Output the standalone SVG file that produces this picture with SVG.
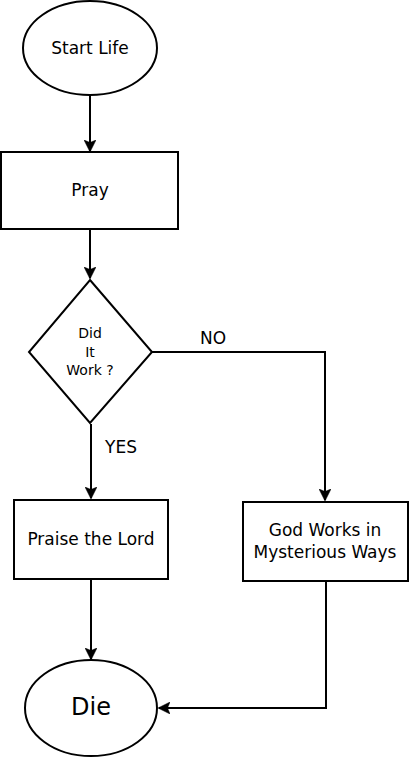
<svg xmlns="http://www.w3.org/2000/svg" width="410" height="759" viewBox="0 0 410 759">
<style>
.s{fill:#fff;stroke:#000;stroke-width:2}
.c{fill:none;stroke:#000;stroke-width:2}
text{font-family:"DejaVu Sans",sans-serif;fill:#000;text-anchor:middle}
.t{font-size:17px}
.d{font-size:14px}
</style>
<defs>
<marker id="a" viewBox="0 0 12 12" refX="11" refY="6" markerWidth="12" markerHeight="12" markerUnits="userSpaceOnUse" orient="auto">
<path d="M0,0 L12,6 L0,12 L2.5,6 Z" fill="#000" stroke="#000" stroke-width="0.5"/>
</marker>
</defs>
<g id="connectors">
<path class="c" d="M90,96 V151" marker-end="url(#a)"/>
<path class="c" d="M90,229 V278" marker-end="url(#a)"/>
<path class="c" d="M91,424 V498" marker-end="url(#a)"/>
<path class="c" d="M152,352 H325 V500" marker-end="url(#a)"/>
<path class="c" d="M91,580 V659" marker-end="url(#a)"/>
<path class="c" d="M326,582 V708 H159" marker-end="url(#a)"/>
<text class="t" x="213" y="344">NO</text>
<text class="t" x="121" y="453">YES</text>
</g>
<g id="start">
<ellipse class="s" cx="90" cy="48" rx="67" ry="47"/>
<text class="t" x="90" y="54">Start Life</text>
</g>
<g id="pray">
<rect class="s" x="1" y="152" width="177" height="77"/>
<text class="t" x="90" y="196">Pray</text>
</g>
<g id="decision">
<path class="s" d="M90,280 L152,352 L90,423 L29,352 Z"/>
<text class="d" x="90" y="338">Did</text>
<text class="d" x="90" y="357">It</text>
<text class="d" x="90" y="375">Work ?</text>
</g>
<g id="praise">
<rect class="s" x="14" y="500" width="154" height="79"/>
<text class="t" x="91" y="545">Praise the Lord</text>
</g>
<g id="god">
<rect class="s" x="243" y="502" width="165" height="79"/>
<text class="t" x="325" y="536">God Works in</text>
<text class="t" x="325" y="558">Mysterious Ways</text>
</g>
<g id="die">
<ellipse class="s" cx="91" cy="708" rx="66" ry="48"/>
<text x="91" y="715" font-size="24">Die</text>
</g>
</svg>
